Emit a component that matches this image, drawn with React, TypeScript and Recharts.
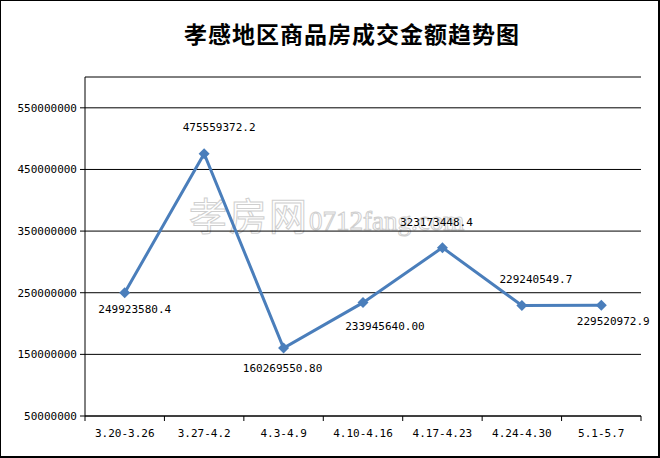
import React from 'react';
import { LineChart, Line, XAxis, YAxis, CartesianGrid, LabelList } from 'recharts';

const weeks = ['3.20-3.26', '3.27-4.2', '4.3-4.9', '4.10-4.16', '4.17-4.23', '4.24-4.30', '5.1-5.7'];
const amounts = [249923580.4, 475559372.2, 160269550.8, 233945640.0, 323173448.4, 229240549.7, 229520972.9];
const amountLabels = ['249923580.4', '475559372.2', '160269550.80', '233945640.00', '323173448.4', '229240549.7', '229520972.9'];
const yTicks = [50000000, 150000000, 250000000, 350000000, 450000000, 550000000];

// where each value label sits, relative to its point
const labelOffsets = [[10, 17], [15, -26], [-1, 20], [22, 24], [-6, -25], [14, -26], [12, 16]];

const data = weeks.map((week, i) => ({ week, amount: amounts[i] }));

const monoFont = '"DejaVu Sans Mono", "Liberation Mono", monospace';
const blue = '#4A7EBB';

const WeekTick = (props: any) => {
  const { x, y, payload, index, visibleTicksCount } = props;
  const half = payload && payload.offset ? payload.offset : 39.6;
  const last = index === (visibleTicksCount ?? weeks.length) - 1;
  return (
    <g>
      <line x1={x - half} x2={x - half} y1={y} y2={y + 5} stroke="#000" />
      {last && <line x1={x + half} x2={x + half} y1={y} y2={y + 5} stroke="#000" />}
      <text x={x} y={y + 17} textAnchor="middle" dominantBaseline="central" fontSize={11} fontFamily={monoFont} fill="#000">
        {payload.value}
      </text>
    </g>
  );
};

const Diamond = (props: any) => {
  const { cx, cy } = props;
  if (cx == null || cy == null) return null;
  const r = 5.5;
  return <path d={`M${cx},${cy - r}L${cx + r},${cy}L${cx},${cy + r}L${cx - r},${cy}Z`} fill={blue} />;
};

const ValueLabel = (props: any) => {
  const { x, y, index } = props;
  const [dx, dy] = labelOffsets[index] || [0, -15];
  return (
    <text x={x + dx} y={y + dy} textAnchor="middle" dominantBaseline="central" fontSize={11} fontFamily={monoFont} fill="#000">
      {amountLabels[index]}
    </text>
  );
};

export default function App() {
  return (
    <div style={{ position: 'absolute', left: 0, top: 0, width: 660, height: 458, background: '#fff' }}>
      <div
        style={{
          position: 'absolute',
          left: 0,
          top: 0,
          width: 660,
          height: 458,
          boxSizing: 'border-box',
          border: '1px solid #000',
          borderRightWidth: 2,
          borderBottomWidth: 2,
        }}
      />
      <div
        style={{
          position: 'absolute',
          left: 0,
          top: 19,
          width: 704,
          textAlign: 'center',
          fontFamily: '"Noto Sans CJK SC", sans-serif',
          fontWeight: 700,
          fontSize: 23,
          letterSpacing: 1,
          lineHeight: '28px',
          color: '#000',
        }}
      >
        孝感地区商品房成交金额趋势图
      </div>
      <div
        style={{
          position: 'absolute',
          left: 189,
          top: 186,
          whiteSpace: 'nowrap',
          color: 'transparent',
          WebkitTextStroke: '1px #cfcfcf',
        }}
      >
        <span style={{ fontFamily: '"Noto Sans CJK SC", sans-serif', fontSize: 38, letterSpacing: 2 }}>孝房网</span>
        <span style={{ fontFamily: '"Liberation Serif", serif', fontSize: 27 }}>0712fang.com</span>
      </div>
      <div style={{ position: 'absolute', left: 0, top: 0 }}>
        <LineChart width={660} height={458} data={data} margin={{ top: 77, right: 19, bottom: 0, left: 0 }}>
          <CartesianGrid vertical={false} stroke="#000" strokeWidth={1} />
          <XAxis
            dataKey="week"
            scale="band"
            height={42}
            stroke="#000"
            tickLine={false}
            tickSize={0}
            tickMargin={0}
            interval={0}
            tick={<WeekTick />}
          />
          <YAxis
            width={85}
            domain={[50000000, 600000000]}
            ticks={yTicks}
            stroke="#000"
            tickSize={5}
            tickMargin={3}
            tick={{ fontSize: 11, fontFamily: monoFont, fill: '#000' }}
            tickFormatter={(v: number) => String(v)}
          />
          <Line
            type="linear"
            dataKey="amount"
            stroke={blue}
            strokeWidth={3}
            dot={<Diamond />}
            activeDot={false}
            isAnimationActive={false}
          >
            <LabelList dataKey="amount" content={<ValueLabel />} />
          </Line>
        </LineChart>
      </div>
    </div>
  );
}
